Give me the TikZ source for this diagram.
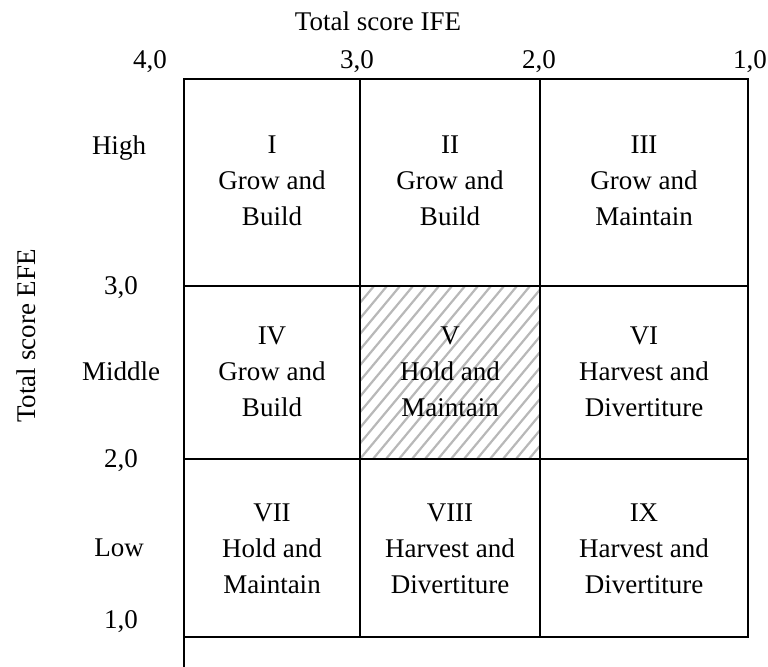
\documentclass[tikz,border=0pt]{standalone}
\usepackage{fontspec}
\setmainfont{Liberation Serif}
\begin{document}
\begin{tikzpicture}[x=0.5pt,y=-0.5pt,
  lbl/.style={font=\fontsize{13.5}{18}\selectfont, inner sep=0pt},
  cell/.style={lbl, align=center},
  gridline/.style={line width=1.35pt, line cap=rect},
  hatch/.style={draw=black!28, line width=1.1pt}]
\useasboundingbox (0,0) rectangle (768,666);

% hatched centre cell (V)
\begin{scope}
  \clip (360,286) rectangle (540,459);
  \foreach \k in {-14,...,14}
    \draw[hatch] ({360+\k*13},459) -- ++(144,-173);
\end{scope}

% matrix grid
\draw[gridline] (184,79) rectangle (748,637);
\draw[gridline] (360,79) -- (360,637);
\draw[gridline] (540,79) -- (540,637);
\draw[gridline] (184,286) -- (748,286);
\draw[gridline] (184,459) -- (748,459);
\draw[gridline] (184,637) -- (184,666);

% horizontal axis (IFE)
\node[lbl, anchor=base] (ife) at (378,30) {Total score IFE};
\node[lbl, anchor=base] (x4) at (150,68) {4,0};
\node[lbl, anchor=base] (x3) at (357,68) {3,0};
\node[lbl, anchor=base] (x2) at (539,68) {2,0};
\node[lbl, anchor=base] (x1) at (750,68) {1,0};

% vertical axis (EFE)
\node[lbl, anchor=base, rotate=90] (efe) at (35,336) {Total score EFE};
\node[lbl, anchor=base] (high) at (119,154) {High};
\node[lbl, anchor=base] (y3) at (121,294) {3,0};
\node[lbl, anchor=base] (mid) at (121,380) {Middle};
\node[lbl, anchor=base] (y2) at (121,467) {2,0};
\node[lbl, anchor=base] (low) at (119,556) {Low};
\node[lbl, anchor=base] (y1) at (121,628) {1,0};

% cell contents
\node[cell] (c1) at (272,181) {I\\Grow and\\Build};
\node[cell] (c2) at (450,181) {II\\Grow and\\Build};
\node[cell] (c3) at (644,181) {III\\Grow and\\Maintain};
\node[cell] (c4) at (272,372) {IV\\Grow and\\Build};
\node[cell] (c5) at (450,372) {V\\Hold and\\Maintain};
\node[cell] (c6) at (644,372) {VI\\Harvest and\\Divertiture};
\node[cell] (c7) at (272,549) {VII\\Hold and\\Maintain};
\node[cell] (c8) at (450,549) {VIII\\Harvest and\\Divertiture};
\node[cell] (c9) at (644,549) {IX\\Harvest and\\Divertiture};
\end{tikzpicture}
\end{document}
